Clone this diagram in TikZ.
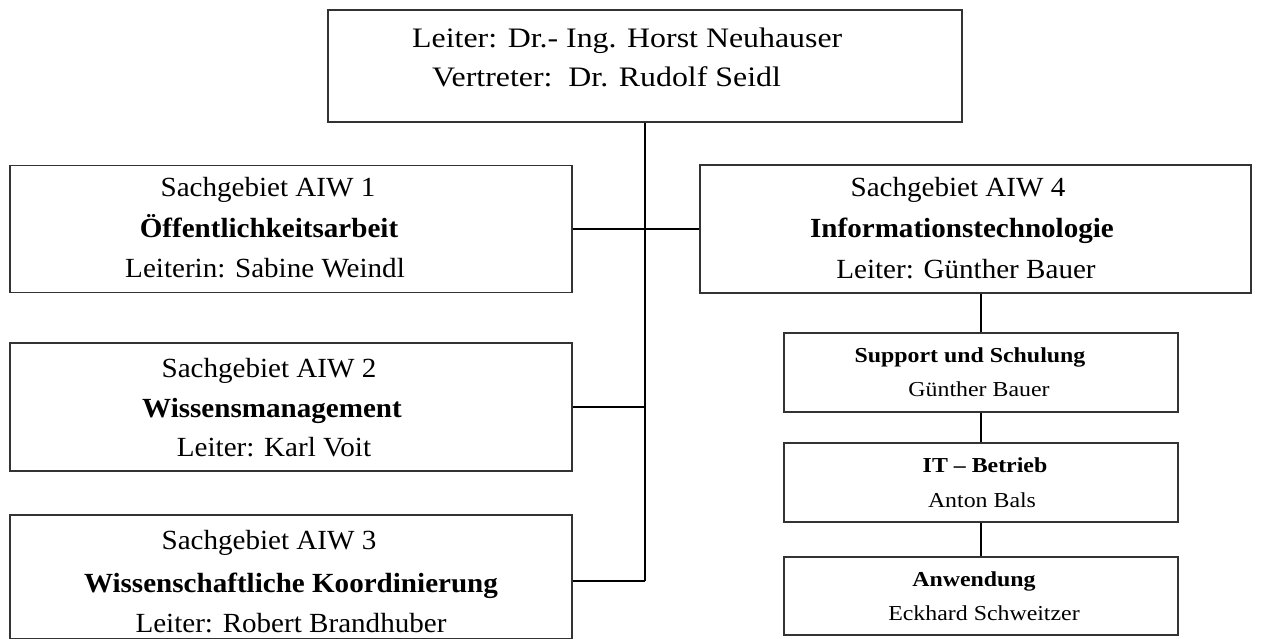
\documentclass[tikz,border=0pt]{standalone}
\usepackage{fontspec}
\setmainfont{Liberation Serif}
\newcommand{\topfont}{\fontsize{28.2}{34}\selectfont}
\newcommand{\boxfont}{\fontsize{27.7}{33}\selectfont}
\newcommand{\subfont}{\fontsize{21.3}{26}\selectfont}
\newcommand{\stretchx}[2]{\scalebox{#1}[1]{#2}}
\begin{document}
\begin{tikzpicture}[x=1pt,y=-1pt,
  box/.style={draw=black!80, line width=1.3pt, rectangle, inner sep=0pt},
  conn/.style={draw=black, line width=1.3pt},
  lbl/.style={inner sep=0pt, anchor=base},
  lblw/.style={inner sep=0pt, anchor=base west},
  toptxt/.style={lblw, font=\topfont},
  bigtxt/.style={lbl, font=\boxfont},
  smalltxt/.style={lbl, font=\subfont}]
\useasboundingbox (0,0) rectangle (1261,639);

% head
\node[box, minimum width=634pt, minimum height=112pt] (top) at (645,66) {};
\node[toptxt] (t1) at (412,48) {\stretchx{1.13}{Leiter: Dr.- Ing. Horst Neuhauser}};
\node[toptxt] (t2) at (432,87) {\stretchx{1.13}{Vertreter:\ \ Dr. Rudolf Seidl}};

% AIW 1
\node[box, minimum width=562pt, minimum height=127pt] (b1) at (291,229) {};
\node[bigtxt] (b1a) at (268,197) {\stretchx{1.05}{Sachgebiet AIW 1}};
\node[bigtxt] (b1b) at (269,238) {\stretchx{1.05}{\bfseries Öffentlichkeitsarbeit}};
\node[bigtxt] (b1c) at (265,277) {\stretchx{1.05}{Leiterin: Sabine Weindl}};

% AIW 2
\node[box, minimum width=562pt, minimum height=128pt] (b2) at (291,407) {};
\node[bigtxt] (b2a) at (269,377) {\stretchx{1.05}{Sachgebiet AIW 2}};
\node[bigtxt] (b2b) at (272,417) {\stretchx{1.05}{\bfseries Wissensmanagement}};
\node[bigtxt] (b2c) at (274,456) {\stretchx{1.05}{Leiter: Karl Voit}};

% AIW 3
\node[box, minimum width=562pt, minimum height=124pt] (b3) at (291,577) {};
\node[bigtxt] (b3a) at (269,549) {\stretchx{1.05}{Sachgebiet AIW 3}};
\node[bigtxt] (b3b) at (291,592) {\stretchx{1.05}{\bfseries Wissenschaftliche Koordinierung}};
\node[bigtxt] (b3c) at (291,632) {\stretchx{1.05}{Leiter: Robert Brandhuber}};

% AIW 4
\node[box, minimum width=551pt, minimum height=128pt] (b4) at (975.5,229) {};
\node[bigtxt] (b4a) at (958,197) {\stretchx{1.05}{Sachgebiet AIW 4}};
\node[bigtxt] (b4b) at (962,238) {\stretchx{1.05}{\bfseries Informationstechnologie}};
\node[bigtxt] (b4c) at (966,278) {\stretchx{1.05}{Leiter: Günther Bauer}};

% sub units
\node[box, minimum width=394pt, minimum height=79pt] (s1) at (981,372.5) {};
\node[smalltxt] (s1a) at (970,362) {\stretchx{1.12}{\bfseries Support und Schulung}};
\node[smalltxt] (s1b) at (979,396) {\stretchx{1.12}{Günther Bauer}};

\node[box, minimum width=394pt, minimum height=79pt] (s2) at (981,482.5) {};
\node[smalltxt] (s2a) at (985,472) {\stretchx{1.12}{\bfseries IT – Betrieb}};
\node[smalltxt] (s2b) at (982,507) {\stretchx{1.12}{Anton Bals}};

\node[box, minimum width=394pt, minimum height=78pt] (s3) at (981,596) {};
\node[smalltxt] (s3a) at (974,586) {\stretchx{1.12}{\bfseries Anwendung}};
\node[smalltxt] (s3b) at (984,620) {\stretchx{1.12}{Eckhard Schweitzer}};

% connectors
\coordinate (j3) at (645,581);
\draw[conn] (top.south) -- (j3);
\draw[conn] (b1.east) -- (b4.west);
\draw[conn] (b2.east) -- (b2.east -| j3);
\draw[conn] (b3.east |- j3) -- (j3);
\draw[conn] (s1.north) -- (s1.north |- b4.south);
\draw[conn] (s1.south) -- (s2.north);
\draw[conn] (s2.south) -- (s3.north);
\end{tikzpicture}
\end{document}
